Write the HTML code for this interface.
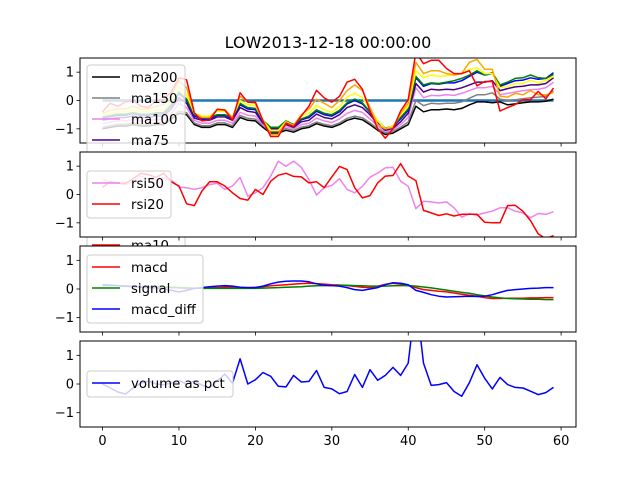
<!DOCTYPE html>
<html><head><meta charset="utf-8"><style>
body{margin:0;background:#fff}
svg{display:block;font-family:"DejaVu Sans","Liberation Sans",sans-serif}
</style></head><body>
<svg id="fig" width="640" height="480" viewBox="0 0 640 480">
<rect width="640" height="480" fill="#fff"/>
<text x="328" y="48" font-size="16" text-anchor="middle" fill="#000">LOW2013-12-18 00:00:00</text>
</svg>
<script>
const xs = Array.from({length:60},(_, i)=>i);
const xTicks = [0,10,20,30,40,50,60];
const yTicks = [-1,0,1];
const ma200 = [-1.0,-0.95,-0.9,-0.9,-0.85,-0.9,-0.9,-0.85,-0.85,-0.65,-0.45,-0.5,-0.85,-0.95,-0.95,-0.85,-0.85,-0.95,-0.6,-0.7,-0.72,-0.95,-1.15,-1.15,-1.05,-1.12,-1.0,-0.95,-0.82,-0.9,-0.95,-0.85,-0.7,-0.62,-0.68,-0.85,-1.05,-1.2,-1.15,-1.0,-0.85,-0.2,-0.4,-0.33,-0.33,-0.3,-0.33,-0.28,-0.15,-0.05,-0.05,-0.08,-0.05,-0.15,-0.12,-0.08,-0.05,-0.05,-0.03,0.05];
const ma150 = [-0.94,-0.89,-0.84,-0.84,-0.79,-0.84,-0.84,-0.79,-0.79,-0.58,-0.38,-0.43,-0.79,-0.89,-0.89,-0.79,-0.79,-0.89,-0.53,-0.63,-0.66,-0.89,-1.1,-1.1,-0.99,-1.06,-0.94,-0.89,-0.76,-0.84,-0.89,-0.79,-0.63,-0.55,-0.61,-0.79,-0.99,-1.14,-1.09,-0.94,-0.76,0.0,-0.18,-0.1,-0.12,-0.1,-0.1,-0.05,0.08,0.2,0.2,0.27,0.05,0.0,0.03,0.06,0.1,0.12,0.15,0.35];
const ma100 = [-0.82,-0.77,-0.72,-0.72,-0.67,-0.72,-0.72,-0.67,-0.67,-0.45,-0.1,-0.25,-0.7,-0.8,-0.8,-0.7,-0.7,-0.8,-0.42,-0.52,-0.55,-0.85,-1.05,-1.05,-0.92,-1.0,-0.85,-0.8,-0.62,-0.72,-0.78,-0.65,-0.45,-0.35,-0.42,-0.65,-0.9,-1.1,-1.03,-0.85,-0.6,0.45,0.1,0.18,0.17,0.2,0.18,0.25,0.35,0.45,0.45,0.5,0.2,0.25,0.3,0.35,0.38,0.4,0.45,0.65];
const ma75 = [-0.7,-0.65,-0.6,-0.6,-0.55,-0.6,-0.6,-0.55,-0.55,-0.3,0.1,-0.1,-0.62,-0.7,-0.7,-0.58,-0.58,-0.7,-0.25,-0.38,-0.42,-0.8,-1.0,-1.0,-0.85,-0.95,-0.75,-0.7,-0.48,-0.6,-0.65,-0.5,-0.25,-0.15,-0.25,-0.5,-0.82,-1.05,-0.98,-0.75,-0.45,0.6,0.3,0.4,0.37,0.4,0.38,0.45,0.55,0.65,0.65,0.7,0.35,0.42,0.48,0.5,0.55,0.55,0.6,0.8];
const ma50 = [-0.62,-0.57,-0.52,-0.52,-0.47,-0.52,-0.52,-0.47,-0.47,-0.2,0.25,0.0,-0.55,-0.65,-0.65,-0.52,-0.52,-0.65,-0.15,-0.3,-0.32,-0.75,-0.95,-0.95,-0.78,-0.9,-0.68,-0.6,-0.38,-0.5,-0.55,-0.4,-0.12,0.0,-0.12,-0.42,-0.75,-1.0,-0.92,-0.65,-0.35,0.8,0.5,0.6,0.58,0.62,0.62,0.7,0.85,1.0,0.9,0.95,0.5,0.6,0.7,0.72,0.8,0.75,0.78,0.98];
const ma30 = [-0.58,-0.53,-0.48,-0.48,-0.43,-0.48,-0.48,-0.43,-0.43,-0.15,0.3,0.05,-0.5,-0.6,-0.6,-0.5,-0.5,-0.6,-0.1,-0.25,-0.28,-0.7,-0.95,-0.95,-0.72,-0.85,-0.65,-0.55,-0.33,-0.45,-0.5,-0.35,-0.08,0.05,-0.08,-0.4,-0.72,-0.98,-0.9,-0.6,-0.3,0.85,0.55,0.62,0.6,0.65,0.7,0.78,0.9,1.05,0.9,0.98,0.55,0.65,0.78,0.8,0.9,0.8,0.78,0.92];
const ma20 = [-0.5,-0.45,-0.4,-0.4,-0.35,-0.4,-0.4,-0.35,-0.35,-0.05,0.5,0.2,-0.45,-0.55,-0.55,-0.38,-0.38,-0.6,0.0,-0.15,-0.18,-0.7,-1.05,-1.05,-0.75,-0.88,-0.55,-0.45,-0.18,-0.32,-0.42,-0.22,0.12,0.25,0.1,-0.3,-0.72,-1.0,-0.9,-0.5,-0.2,1.05,0.8,0.9,0.85,0.88,0.9,0.95,1.1,1.15,0.95,0.95,0.45,0.5,0.6,0.6,0.72,0.62,0.7,0.85];
const ma15 = [-0.45,-0.35,-0.3,-0.3,-0.2,-0.3,-0.3,-0.2,-0.15,0.2,0.7,0.45,-0.45,-0.6,-0.6,-0.32,-0.32,-0.6,0.15,-0.05,-0.1,-0.72,-1.2,-1.2,-0.78,-0.88,-0.5,-0.3,0.05,-0.1,-0.25,0.0,0.35,0.55,0.35,-0.25,-0.85,-1.0,-0.95,-0.45,-0.1,1.35,0.95,1.05,1.05,0.95,0.9,0.95,1.35,1.45,1.1,1.1,0.15,0.12,0.25,0.2,0.35,0.2,0.2,0.28];
const ma10 = [-0.4,-0.1,-0.2,-0.05,0.0,-0.2,-0.25,0.0,0.05,0.3,0.8,0.73,-0.43,-0.72,-0.69,-0.31,-0.34,-0.69,0.27,-0.06,-0.06,-0.72,-1.27,-1.27,-0.8,-0.92,-0.55,-0.2,0.36,0.09,-0.06,0.15,0.65,0.75,0.4,-0.37,-1.0,-1.33,-1.0,-0.37,0.03,1.7,1.3,1.42,1.42,1.13,0.95,0.95,1.05,0.52,0.67,0.67,-0.37,-0.25,-0.14,0.03,0.03,0.32,0.06,0.44];
const zeroLine = xs.map(()=>0);
const rsi50 = [0.55,0.45,0.4,0.35,0.45,0.65,0.55,0.5,0.6,0.5,0.26,0.24,0.18,0.24,0.35,0.4,0.18,0.3,0.6,-0.06,0.06,0.24,0.65,1.18,1.0,1.18,0.96,0.53,-0.02,0.24,0.32,0.56,0.18,0.06,0.29,0.61,0.76,0.94,0.96,0.47,0.29,-0.5,-0.24,-0.26,-0.3,-0.26,-0.47,-0.8,-0.68,-0.73,-0.65,-0.59,-0.47,-0.47,-0.59,-0.65,-0.82,-0.67,-0.7,-0.61];
const rsi20 = [0.25,0.45,0.4,0.4,0.55,0.75,0.7,0.6,0.75,0.45,0.3,-0.33,-0.39,0.12,0.45,0.45,0.3,0.06,-0.14,-0.2,0.18,0.0,0.47,0.68,0.75,0.64,0.62,0.41,0.45,0.24,0.62,0.99,0.88,0.24,-0.12,-0.04,0.41,0.65,0.67,1.09,0.65,0.49,-0.56,-0.65,-0.74,-0.68,-0.76,-0.7,-0.7,-0.7,-0.98,-1.0,-1.0,-0.39,-0.38,-0.59,-0.92,-1.39,-1.56,-1.45];
const macd = [0.12,0.12,0.11,0.1,0.1,0.09,0.08,0.07,0.06,0.05,0.04,0.02,0.02,0.03,0.04,0.05,0.06,0.06,0.05,0.05,0.06,0.08,0.11,0.13,0.15,0.17,0.19,0.2,0.19,0.17,0.15,0.14,0.12,0.09,0.06,0.05,0.1,0.16,0.2,0.17,0.12,0.05,-0.02,-0.05,-0.08,-0.1,-0.14,-0.18,-0.22,-0.25,-0.3,-0.33,-0.33,-0.32,-0.32,-0.32,-0.31,-0.31,-0.3,-0.3];
const signal = [0.12,0.12,0.11,0.1,0.09,0.08,0.08,0.07,0.06,0.06,0.05,0.04,0.03,0.02,0.02,0.02,0.02,0.02,0.02,0.02,0.02,0.03,0.04,0.05,0.06,0.07,0.08,0.1,0.11,0.12,0.12,0.13,0.13,0.12,0.11,0.1,0.1,0.1,0.11,0.12,0.12,0.1,0.07,0.04,0.0,-0.04,-0.08,-0.12,-0.15,-0.2,-0.24,-0.28,-0.31,-0.33,-0.34,-0.35,-0.36,-0.36,-0.37,-0.37];
const macdDiff = [0.15,0.14,0.12,0.1,0.08,0.06,0.05,0.04,0.0,-0.05,-0.1,-0.05,0.02,0.05,0.08,0.1,0.12,0.1,0.06,0.05,0.05,0.1,0.18,0.24,0.27,0.28,0.28,0.25,0.18,0.13,0.12,0.1,0.05,-0.02,-0.05,0.0,0.05,0.15,0.22,0.2,0.15,-0.05,-0.12,-0.2,-0.25,-0.28,-0.27,-0.26,-0.25,-0.26,-0.25,-0.2,-0.12,-0.05,-0.02,0.0,0.02,0.03,0.05,0.05];
const volumePct = [0,-0.14,-0.28,-0.35,-0.14,0.03,0.1,0,-0.02,0.03,0.12,0,0.1,-0.03,-0.14,0.1,0.35,0.03,0.88,0,0.15,0.4,0.27,-0.08,-0.1,0.3,0.07,0.09,0.47,-0.12,-0.17,-0.34,-0.26,0.33,-0.12,0.5,0.13,0.3,0.58,0.3,0.73,3.0,0.73,-0.05,-0.02,0.05,-0.26,-0.43,0.05,0.67,0.2,-0.17,0.23,-0.02,-0.12,-0.14,-0.25,-0.37,-0.3,-0.12];

const NS='http://www.w3.org/2000/svg';
const svg=document.getElementById('fig');
const X0=80, X1=576, XMIN=-2.95, XMAX=61.95;
const sx=v=>X0+(v-XMIN)/(XMAX-XMIN)*(X1-X0);
function mk(tag,attrs,parent){const e=document.createElementNS(NS,tag);for(const k in attrs)e.setAttribute(k,attrs[k]);(parent||svg).appendChild(e);return e;}

const axesDefs=[
 {top:58,bot:143,name:'ma-panel',series:[[ma200,'#000000','ma200'],[ma150,'#808080','ma150'],[ma100,'#ee82ee','ma100'],[ma75,'#4b0082','ma75'],[ma50,'#0000ff','ma50'],[ma30,'#008000','ma30'],[ma20,'#ffff00','ma20'],[ma15,'#ffa500','ma15'],[ma10,'#ff0000','ma10']],extra:[zeroLine,'#1f77b4'],legend:{x:87,y:65,w:98}},
 {top:152,bot:237,name:'rsi-panel',series:[[rsi50,'#ee82ee','rsi50'],[rsi20,'#ff0000','rsi20']],legend:{x:87,y:171,w:84}},
 {top:246,bot:332,name:'macd-panel',series:[[macd,'#ff0000','macd'],[signal,'#008000','signal'],[macdDiff,'#0000ff','macd_diff']],legend:{x:87,y:255,w:116}},
 {top:341,bot:427,name:'volume-panel',series:[[volumePct,'#0000ff','volume as pct']],legend:{x:87,y:371,w:146}}
];

axesDefs.forEach((ax,ai)=>{
  const g=mk('g',{});
  
  
  const sy=v=>ax.bot-(v+1.5)/3*(ax.bot-ax.top);
  mk('rect',{x:X0,y:ax.top,width:X1-X0,height:ax.bot-ax.top,fill:'#fff'},g);
  const cid='clip'+ai;
  const cp=mk('clipPath',{id:cid},g);
  mk('rect',{x:X0,y:ax.top,width:X1-X0,height:ax.bot-ax.top},cp);
  const plot=mk('g',{'clip-path':'url(#'+cid+')'},g);
  const pts=arr=>arr.map((v,i)=>sx(xs[i]).toFixed(1)+','+sy(v).toFixed(1)).join(' ');
  if(ax.extra){
    const zl=mk('polyline',{points:pts(ax.extra[0]),fill:'none',stroke:ax.extra[1],'stroke-width':2.5},plot);
    
    
  }
  ax.series.forEach(s=>{
    const pl=mk('polyline',{points:pts(s[0]),fill:'none',stroke:s[1],'stroke-width':1.5,'stroke-linejoin':'round'},plot);
    
    
  });
  mk('rect',{x:X0,y:ax.top,width:X1-X0,height:ax.bot-ax.top,fill:'none',stroke:'#000','stroke-width':1},g);
  xTicks.forEach(t=>{
    mk('line',{x1:sx(t),x2:sx(t),y1:ax.bot,y2:ax.bot+3.5,stroke:'#000','stroke-width':0.8},g);
    if(ai===3){
      const tx=mk('text',{x:sx(t),y:ax.bot+18,'font-size':13,'text-anchor':'middle',fill:'#000'},g);
      tx.textContent=t;
      
      
    }
  });
  yTicks.forEach(t=>{
    mk('line',{x1:X0-3.5,x2:X0,y1:sy(t),y2:sy(t),stroke:'#000','stroke-width':0.8},g);
    const ty=mk('text',{x:X0-6,y:sy(t)+4.5,'font-size':13,'text-anchor':'end',fill:'#000'},g);
    ty.textContent=(t<0?'\u2212':'')+Math.abs(t);
    
    
  });
  const L=ax.legend, n=ax.series.length;
  const lg=mk('g',{},g);
  
  
  mk('rect',{x:L.x,y:L.y,width:L.w,height:n*21+5,rx:3,fill:'#fff','fill-opacity':0.8,stroke:'#cccccc','stroke-width':1},lg);
  ax.series.forEach((s,k)=>{
    const yy=L.y+12+k*21;
    mk('line',{x1:L.x+5,x2:L.x+33,y1:yy,y2:yy,stroke:s[1],'stroke-width':1.5},lg);
    const t=mk('text',{x:L.x+44,y:yy+5,'font-size':13.3,fill:'#000'},lg);
    t.textContent=s[2];
    
    
  });
});
</script>
</body></html>
